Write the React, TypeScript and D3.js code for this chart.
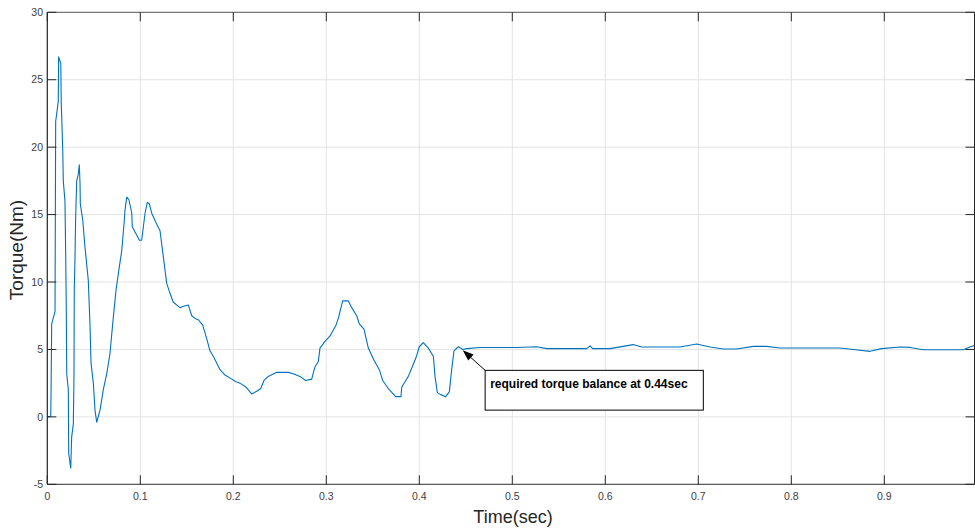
import React from "react";
import * as d3 from "d3";

const timeSec = [
  0.0, 0.0037, 0.004, 0.0047, 0.0083, 0.009, 0.0118, 0.0122, 0.0145, 0.015,
  0.0166, 0.0172, 0.019, 0.0198, 0.0204, 0.0209, 0.0226, 0.023, 0.0252, 0.0262,
  0.028, 0.0287, 0.029, 0.0298, 0.0305, 0.0316, 0.0333, 0.0344, 0.0352, 0.0355,
  0.0381, 0.0405, 0.0441, 0.0452, 0.0459, 0.047, 0.0495, 0.0513, 0.0531, 0.0567,
  0.0602, 0.0639, 0.0674, 0.071, 0.0739, 0.0774, 0.08, 0.0825, 0.0835, 0.0854,
  0.0878, 0.0908, 0.0914, 0.0943, 0.0961, 0.0989, 0.1015, 0.1051, 0.1075, 0.1097,
  0.1123, 0.1169, 0.1212, 0.1247, 0.1284, 0.1312, 0.1355, 0.1391, 0.1427, 0.1462,
  0.1516, 0.1553, 0.1588, 0.1624, 0.1671, 0.1714, 0.1749, 0.1792, 0.1857, 0.1911,
  0.1983, 0.2029, 0.2072, 0.2137, 0.2198, 0.2252, 0.2295, 0.233, 0.2376, 0.2467,
  0.2591, 0.2645, 0.2717, 0.2778, 0.2843, 0.2878, 0.2914, 0.2932, 0.2986, 0.304,
  0.3104, 0.3129, 0.3176, 0.3237, 0.3273, 0.3327, 0.3355, 0.3405, 0.3452, 0.3513,
  0.357, 0.3606, 0.3667, 0.3746, 0.3803, 0.3811, 0.3846, 0.3882, 0.3918, 0.3965,
  0.4, 0.4043, 0.4097, 0.4151, 0.4169, 0.4194, 0.423, 0.4284, 0.4323, 0.4348,
  0.4373, 0.4419, 0.447, 0.451, 0.4653, 0.5047, 0.5262, 0.537, 0.58, 0.5836,
  0.5865, 0.6051, 0.6301, 0.6391, 0.6803, 0.6983, 0.7126, 0.7269, 0.7413, 0.7592,
  0.7735, 0.7878, 0.8523, 0.8667, 0.8846, 0.8972, 0.9169, 0.9277, 0.9419, 0.9849,
  0.9921, 0.9975,
];

const torqueNm = [
  0.0, 0.05, 1.6, 6.9, 7.8, 21.9, 23.4, 26.7, 26.2, 23.3,
  19.8, 17.5, 16.0, 11.9, 8.1, 3.2, 2.0, -2.7, -3.8, -1.5,
  -0.5, 3.2, 9.4, 11.9, 14.8, 17.5, 18.0, 18.7, 17.3, 15.8,
  14.6, 12.6, 10.1, 8.1, 6.9, 4.0, 2.5, 0.5, -0.4, 0.5,
  2.0, 3.2, 4.7, 7.4, 9.4, 11.1, 12.3, 14.3, 15.3, 16.3,
  16.1, 15.1, 14.1, 13.7, 13.5, 13.1, 13.1, 15.1, 15.9, 15.8,
  15.1, 14.4, 13.8, 11.9, 9.9, 9.3, 8.5, 8.3, 8.1, 8.2,
  8.3, 7.5, 7.3, 7.2, 6.8, 5.8, 4.9, 4.4, 3.5, 3.1,
  2.8, 2.6, 2.5, 2.2, 1.7, 1.9, 2.1, 2.7, 3.0, 3.3,
  3.3, 3.2, 3.0, 2.7, 2.8, 3.7, 4.1, 5.1, 5.6, 6.0,
  6.8, 7.3, 8.6, 8.6, 8.1, 7.5, 6.9, 6.5, 5.1, 4.2,
  3.5, 2.7, 2.1, 1.5, 1.5, 2.2, 2.6, 3.0, 3.6, 4.4,
  5.2, 5.5, 5.1, 4.5, 3.0, 1.8, 1.65, 1.5, 1.85, 3.5,
  4.9, 5.2, 5.0, 5.06, 5.14, 5.14, 5.2, 5.06, 5.06, 5.26,
  5.06, 5.06, 5.36, 5.18, 5.18, 5.4, 5.18, 5.03, 5.03, 5.23,
  5.23, 5.11, 5.11, 5.0, 4.86, 5.06, 5.18, 5.15, 4.98, 4.98,
  5.18, 5.3,
];

const xTicks = [0, 0.1, 0.2, 0.3, 0.4, 0.5, 0.6, 0.7, 0.8, 0.9];
const yTicks = [-5, 0, 5, 10, 15, 20, 25, 30];
const xLabel = "Time(sec)";
const yLabel = "Torque(Nm)";
const annotationText = "required torque balance at 0.44sec";
const annotationTarget = { t: 0.4467, v: 4.94 };
const annotationBox = { t0: 0.4708, t1: 0.7054, v0: 3.45, v1: 0.5 };

const W = 975;
const H = 532;
const left = 47.3;
const right = 974.5;
const top = 12.3;
const bottom = 484.3;

export default function App() {
  const x = d3.scaleLinear().domain([0, (right - left) / 930]).range([left, right]);
  const y = d3.scaleLinear().domain([-5, 30]).range([bottom, top]);
  const data = timeSec.map((t, i) => [t, torqueNm[i]] as [number, number]);
  const line = d3
    .line<[number, number]>()
    .x((d) => x(d[0]))
    .y((d) => y(d[1]));

  const tickColor = "#262626";
  const gridColor = "#e3e3e3";
  const tickLen = 9;

  const ax = x(annotationTarget.t);
  const ay = y(annotationTarget.v);
  const bx0 = x(annotationBox.t0);
  const bx1 = x(annotationBox.t1);
  const by0 = y(annotationBox.v0);
  const by1 = y(annotationBox.v1);
  const ang = Math.atan2(by0 - ay, bx0 - ax);
  const headLen = 11;
  const headW = 4;
  const hx = ax + headLen * Math.cos(ang);
  const hy = ay + headLen * Math.sin(ang);
  const px = -Math.sin(ang);
  const py = Math.cos(ang);

  return (
    <svg
      width={W}
      height={H}
      style={{ position: "absolute", left: 0, top: 0, background: "#fff", fontFamily: "Arial, 'Liberation Sans', sans-serif" }}
    >
      <rect x={0} y={0} width={W} height={H} fill="#fff" />
      {/* grid */}
      {xTicks.map((t) => (
        <line key={"gx" + t} x1={x(t)} x2={x(t)} y1={top} y2={bottom} stroke={gridColor} strokeWidth={1} />
      ))}
      {yTicks.map((v) => (
        <line key={"gy" + v} x1={left} x2={right} y1={y(v)} y2={y(v)} stroke={gridColor} strokeWidth={1} />
      ))}
      {/* data */}
      <path d={line(data) || ""} fill="none" stroke="#0072BD" strokeWidth={1.1} strokeLinejoin="round" />
      {/* axes box */}
      <line x1={left} x2={right} y1={top} y2={top} stroke="#5a5a5a" strokeWidth={1} />
      <line x1={left} x2={right} y1={bottom} y2={bottom} stroke="#5a5a5a" strokeWidth={1.3} />
      <line x1={left} x2={left} y1={top} y2={bottom} stroke={tickColor} strokeWidth={1.2} />
      <line x1={right} x2={right} y1={top} y2={bottom} stroke={tickColor} strokeWidth={1} />
      {/* ticks */}
      {xTicks.map((t) => (
        <g key={"xt" + t}>
          <line x1={x(t)} x2={x(t)} y1={bottom} y2={bottom - tickLen} stroke={tickColor} strokeWidth={1} />
          <line x1={x(t)} x2={x(t)} y1={top} y2={top + tickLen} stroke={tickColor} strokeWidth={1} />
          <text x={x(t)} y={500} textAnchor="middle" fontSize={10.5} fill="#404040">
            {String(t)}
          </text>
        </g>
      ))}
      {yTicks.map((v) => (
        <g key={"yt" + v}>
          <line x1={left} x2={left + tickLen} y1={y(v)} y2={y(v)} stroke={tickColor} strokeWidth={1} />
          <line x1={right} x2={right - tickLen} y1={y(v)} y2={y(v)} stroke={tickColor} strokeWidth={1} />
          <text x={43} y={y(v) + 3.7} textAnchor="end" fontSize={10.5} fill="#404040">
            {String(v)}
          </text>
        </g>
      ))}
      {/* axis labels */}
      <text x={513} y={523} textAnchor="middle" fontSize={18} fill="#262626">
        {xLabel}
      </text>
      <text
        transform={`translate(23, 250) rotate(-90)`}
        textAnchor="middle"
        fontSize={19}
        fill="#262626"
      >
        {yLabel}
      </text>
      {/* annotation */}
      <line x1={bx0} y1={by0} x2={hx} y2={hy} stroke="#000" strokeWidth={1} />
      <path
        d={`M${ax},${ay} L${hx + px * headW},${hy + py * headW} L${hx - px * headW},${hy - py * headW} Z`}
        fill="#000"
      />
      <rect x={bx0} y={by0} width={bx1 - bx0} height={by1 - by0} fill="#fff" stroke="#000" strokeWidth={1} />
      <text x={bx0 + 5} y={by0 + 17.5} fontSize={12} fontWeight="bold" fill="#000">
        {annotationText}
      </text>
    </svg>
  );
}
